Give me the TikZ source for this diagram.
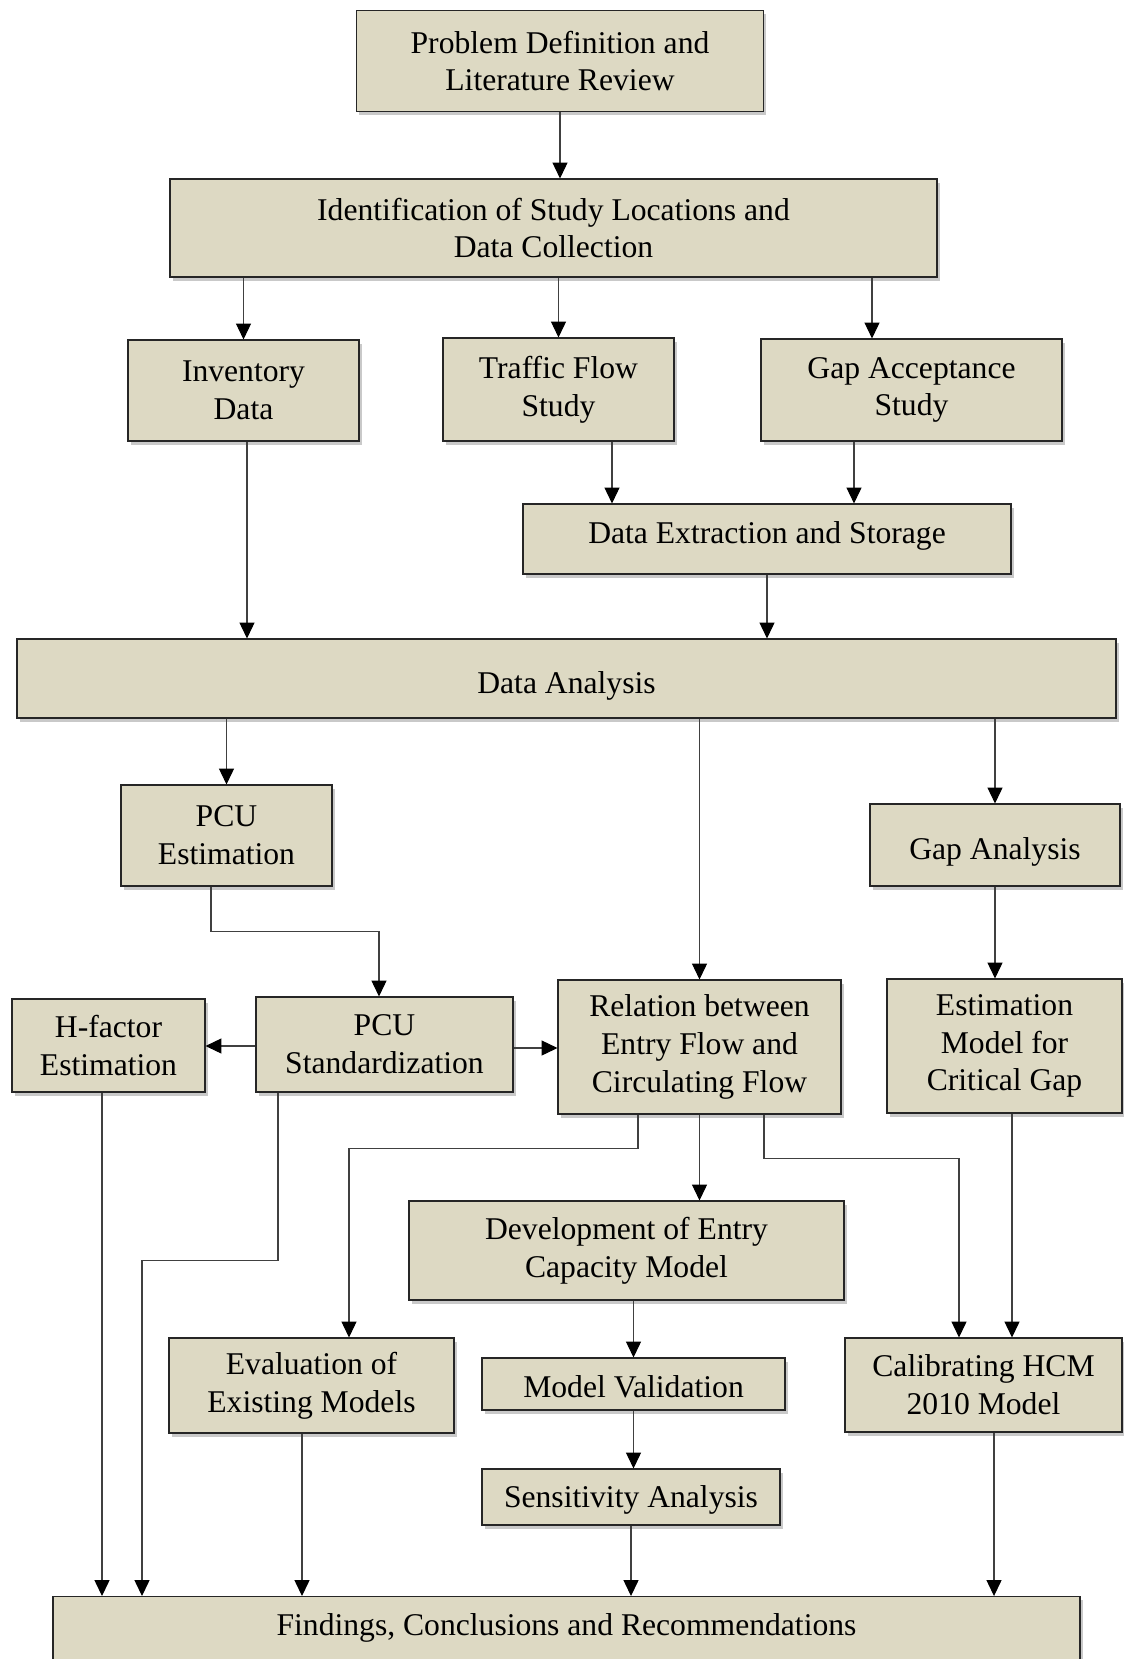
\documentclass[tikz,border=0pt]{standalone}
\usepackage{fontspec}
\setmainfont{Liberation Serif}
\usetikzlibrary{arrows.meta,shadows}

\definecolor{boxfill}{HTML}{DDD9C3}

\tikzset{
    box/.style = {draw = black!85, line width = 0.6pt, fill = boxfill, align = center,
        inner sep = 2pt, font = \fontsize{18}{21.5}\selectfont,
        drop shadow = {shadow xshift = 1.5pt, shadow yshift = -2pt, opacity = 0.3, fill = black!70}},
    low/.style = {text height = 21pt, text depth = 4pt},
    link/.style = {draw = black!75, line width = 0.6pt,
        -{Triangle[length = 9pt, width = 8.5pt, black]}}
}

\begin{document}
\begin{tikzpicture}
                \useasboundingbox (0, 0) rectangle (22.46, -33.18);

                % top part
                \node [box, minimum width = 8.14cm, minimum height = 2.02cm] (prob) at (11.20, -1.22) {Problem Definition and\\Literature Review};
                \node [box, minimum width = 15.34cm, minimum height = 1.96cm] (ident) at (11.07, -4.56) {Identification of Study Locations and\\Data Collection};
                \node [box, minimum width = 4.62cm, minimum height = 2.02cm] (inv) at (4.87, -7.81) {Inventory\\Data};
                \node [box, minimum width = 4.62cm, minimum height = 2.06cm] (traffic) at (11.17, -7.79) {Traffic Flow\\Study};
                \node [box, minimum width = 6.02cm, minimum height = 2.04cm] (gapacc) at (18.23, -7.80) {Gap Acceptance\\Study};
                \node [box, minimum width = 9.76cm, minimum height = 1.40cm, text height = 11pt, text depth = 6pt] (extract) at (15.34, -10.78) {Data Extraction and Storage};
                \node [box, low, minimum width = 21.98cm, minimum height = 1.58cm] (analysis) at (11.33, -13.57) {Data Analysis};

                % middle part
                \node [box, minimum width = 4.22cm, minimum height = 2.02cm] (pcuest) at (4.53, -16.71) {PCU\\Estimation};
                \node [box, low, minimum width = 5.00cm, minimum height = 1.64cm] (gapan) at (19.90, -16.90) {Gap Analysis};
                \node [box, minimum width = 3.86cm, minimum height = 1.86cm] (hfactor) at (2.17, -20.91) {H-factor\\Estimation};
                \node [box, minimum width = 5.14cm, minimum height = 1.90cm] (pcustd) at (7.69, -20.89) {PCU\\Standardization};
                \node [box, minimum width = 5.66cm, minimum height = 2.68cm] (relation) at (13.99, -20.94) {Relation between\\Entry Flow and\\Circulating Flow};
                \node [box, minimum width = 4.70cm, minimum height = 2.68cm] (critgap) at (20.09, -20.92) {Estimation\\Model for\\Critical Gap};

                % bottom part
                \node [box, minimum width = 8.70cm, minimum height = 1.98cm] (develop) at (12.53, -25.01) {Development of Entry\\Capacity Model};
                \node [box, minimum width = 5.70cm, minimum height = 1.90cm] (evaluation) at (6.23, -27.71) {Evaluation of\\Existing Models};
                \node [box, minimum width = 6.06cm, minimum height = 1.04cm, text height = 16pt, text depth = 1pt] (validation) at (12.67, -27.68) {Model Validation};
                \node [box, minimum width = 5.54cm, minimum height = 1.88cm] (calibrate) at (19.67, -27.70) {Calibrating HCM\\2010 Model};
                \node [box, minimum width = 5.96cm, minimum height = 1.12cm, text height = 16pt, text depth = 4pt] (sensitivity) at (12.62, -29.94) {Sensitivity Analysis};
                \node [box, anchor = north, minimum width = 20.54cm, text height = 12pt, text depth = 40pt, inner ysep = 10pt] (findings) at (11.33, -31.92) {Findings, Conclusions and Recommendations};

                % arrows
                \draw [link] (prob.south) -- (prob.south |- ident.north);
                \draw [link] (ident.south -| inv.north) -- (inv.north);
                \draw [link] (ident.south -| traffic.north) -- (traffic.north);
                \draw [link] ([xshift = -0.79cm]gapacc.north |- ident.south) -- ([xshift = -0.79cm]gapacc.north);
                \draw [link] ([xshift = 1.07cm]traffic.south) -- ([xshift = 1.07cm]traffic.south |- extract.north);
                \draw [link] ([xshift = -1.15cm]gapacc.south) -- ([xshift = -1.15cm]gapacc.south |- extract.north);
                \draw [link] ([xshift = 0.07cm]inv.south) -- ([xshift = 0.07cm]inv.south |- analysis.north);
                \draw [link] (extract.south) -- (extract.south |- analysis.north);

                \draw [link] (analysis.south -| pcuest.north) -- (pcuest.north);
                \draw [link] (analysis.south -| relation.north) -- (relation.north);
                \draw [link] (analysis.south -| gapan.north) -- (gapan.north);
                \draw [link] ([xshift = -0.31cm]pcuest.south) -- ++(0, -0.9) -| ([xshift = -0.11cm]pcustd.north);
                \draw [link] ([yshift = -0.03cm]pcustd.west) -- ([yshift = -0.03cm]pcustd.west -| hfactor.east);
                \draw [link] ([yshift = -0.07cm]pcustd.east) -- ([yshift = -0.07cm]pcustd.east -| relation.west);
                \draw [link] (gapan.south) -- (gapan.south |- critgap.north);

                \draw [link] ([xshift = -1.23cm]relation.south) -- ++(0, -0.68) -| ([xshift = 0.75cm]evaluation.north);
                \draw [link] (relation.south) -- (relation.south |- develop.north);
                \draw [link] ([xshift = 1.29cm]relation.south) -- ++(0, -0.88) -| ([xshift = -0.49cm]calibrate.north);
                \draw [link] ([xshift = 0.15cm]critgap.south) -- ([xshift = 0.15cm]critgap.south |- calibrate.north);
                \draw [link] (develop.south -| validation.north) -- (validation.north);
                \draw [link] (validation.south) -- (validation.south |- sensitivity.north);

                \draw [link] ([xshift = -0.13cm]hfactor.south) -- ([xshift = -0.13cm]hfactor.south |- findings.north);
                \draw [link] ([xshift = -2.13cm]pcustd.south) -- ++(0, -3.36) -| ([xshift = -8.49cm]findings.north);
                \draw [link] ([xshift = -0.19cm]evaluation.south) -- ([xshift = -0.19cm]evaluation.south |- findings.north);
                \draw [link] (sensitivity.south) -- (sensitivity.south |- findings.north);
                \draw [link] ([xshift = 0.21cm]calibrate.south) -- ([xshift = 0.21cm]calibrate.south |- findings.north);
            \end{tikzpicture}
\end{document}
